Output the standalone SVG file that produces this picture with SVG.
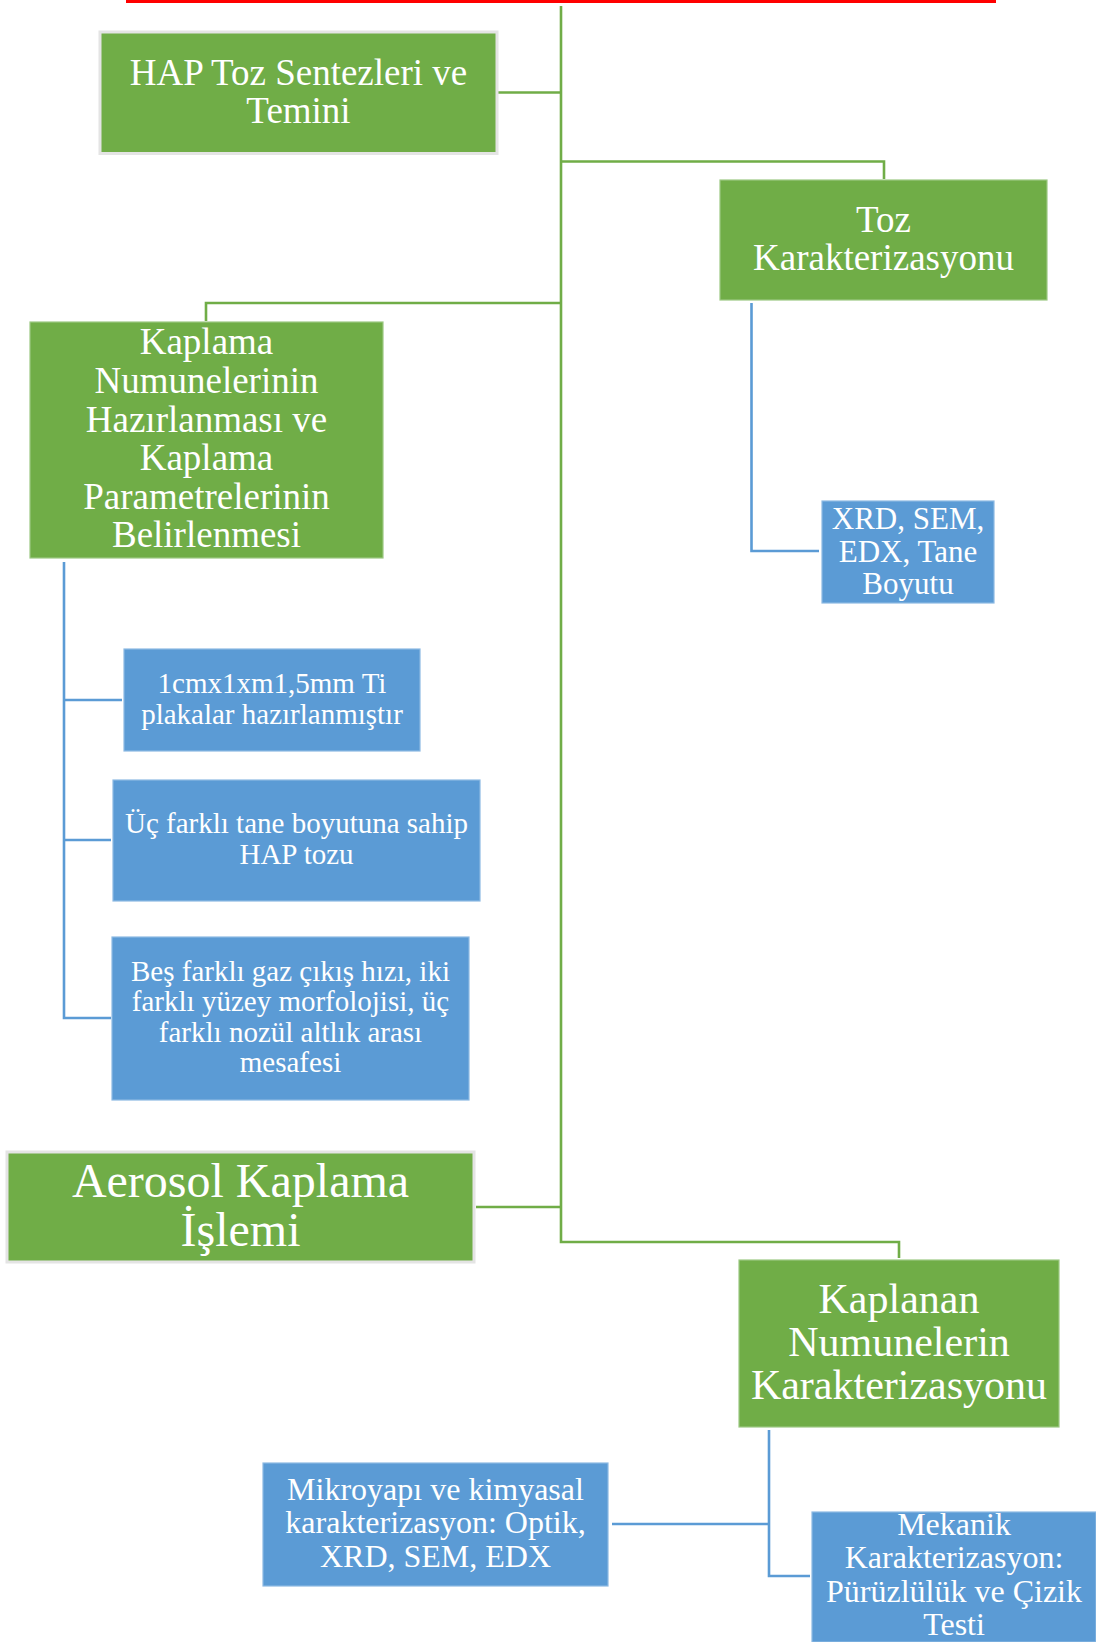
<svg xmlns="http://www.w3.org/2000/svg" width="1096" height="1642" viewBox="0 0 1096 1642">
<style>
.g{fill:#70AD47;stroke:#9CC883;stroke-width:1.2}
.gs{fill:#70AD47;stroke:#E4E4E4;stroke-width:3}
.b{fill:#5B9BD5;stroke:#8DB9E3;stroke-width:1.2}
.t{font-family:"Liberation Serif","Times New Roman",serif;fill:#FFFFFF;text-anchor:middle}
.cg{fill:none;stroke:#70AD47;stroke-width:2.6}
.cb{fill:none;stroke:#5B9BD5;stroke-width:2.6}
</style>
<rect width="1096" height="1642" fill="#FFFFFF"/>
<rect x="126" y="0" width="870" height="3" fill="#FF0000"/>
<g id="connectors">
<path class="cg" d="M561 6 V1242 H899 V1258"/>
<path class="cg" d="M498 92.5 H561"/>
<path class="cg" d="M561 161.5 H884 V179"/>
<path class="cg" d="M561 303 H206 V321"/>
<path class="cg" d="M476 1207 H561"/>
<path class="cb" d="M751.5 303 V551 H819"/>
<path class="cb" d="M64 562 V1018 H111"/>
<path class="cb" d="M64 700 H122"/>
<path class="cb" d="M64 840 H111"/>
<path class="cb" d="M769 1430 V1576 H810"/>
<path class="cb" d="M612 1524 H769"/>
</g>
<g id="hap">
<rect class="gs" x="100" y="32" width="397" height="121.5"/>
<text class="t" font-size="37"><tspan x="298.5" y="85">HAP Toz Sentezleri ve</tspan><tspan x="298.5" y="123">Temini</tspan></text>
</g>
<g id="toz">
<rect class="g" x="720" y="180" width="327" height="120"/>
<text class="t" font-size="37"><tspan x="883.5" y="232">Toz</tspan><tspan x="883.5" y="270">Karakterizasyonu</tspan></text>
</g>
<g id="kaplama">
<rect class="g" x="30" y="322" width="353" height="236"/>
<text class="t" font-size="37"><tspan x="206.5" y="354">Kaplama</tspan><tspan x="206.5" y="393">Numunelerinin</tspan><tspan x="206.5" y="432">Hazırlanması ve</tspan><tspan x="206.5" y="470">Kaplama</tspan><tspan x="206.5" y="509">Parametrelerinin</tspan><tspan x="206.5" y="547">Belirlenmesi</tspan></text>
</g>
<g id="xrd">
<rect class="b" x="822" y="501" width="172" height="102"/>
<text class="t" font-size="31"><tspan x="908" y="529">XRD, SEM,</tspan><tspan x="908" y="562">EDX, Tane</tspan><tspan x="908" y="594">Boyutu</tspan></text>
</g>
<g id="plaka">
<rect class="b" x="124" y="649" width="296" height="102"/>
<text class="t" font-size="29"><tspan x="272" y="693">1cmx1xm1,5mm Ti</tspan><tspan x="272" y="724">plakalar hazırlanmıştır</tspan></text>
</g>
<g id="tane">
<rect class="b" x="113" y="780" width="367" height="121"/>
<text class="t" font-size="29"><tspan x="296.5" y="833">Üç farklı tane boyutuna sahip</tspan><tspan x="296.5" y="864">HAP tozu</tspan></text>
</g>
<g id="gaz">
<rect class="b" x="112" y="937" width="357" height="163"/>
<text class="t" font-size="29"><tspan x="290.5" y="981">Beş farklı gaz çıkış hızı, iki</tspan><tspan x="290.5" y="1011">farklı yüzey morfolojisi, üç</tspan><tspan x="290.5" y="1042">farklı nozül altlık arası</tspan><tspan x="290.5" y="1072">mesafesi</tspan></text>
</g>
<g id="aerosol">
<rect class="gs" x="7" y="1152" width="467" height="110"/>
<text class="t" font-size="48"><tspan x="240.5" y="1197">Aerosol Kaplama</tspan><tspan x="240.5" y="1246">İşlemi</tspan></text>
</g>
<g id="kaplanan">
<rect class="g" x="739" y="1260" width="320" height="167"/>
<text class="t" font-size="42"><tspan x="899" y="1313">Kaplanan</tspan><tspan x="899" y="1356">Numunelerin</tspan><tspan x="899" y="1399">Karakterizasyonu</tspan></text>
</g>
<g id="mikro">
<rect class="b" x="263" y="1463" width="345" height="123"/>
<text class="t" font-size="32"><tspan x="435.5" y="1500">Mikroyapı ve kimyasal</tspan><tspan x="435.5" y="1533">karakterizasyon: Optik,</tspan><tspan x="435.5" y="1567">XRD, SEM, EDX</tspan></text>
</g>
<g id="mekanik">
<rect class="b" x="812" y="1512" width="284" height="130"/>
<text class="t" font-size="32"><tspan x="954" y="1535">Mekanik</tspan><tspan x="954" y="1568">Karakterizasyon:</tspan><tspan x="954" y="1602">Pürüzlülük ve Çizik</tspan><tspan x="954" y="1635">Testi</tspan></text>
</g>
</svg>
